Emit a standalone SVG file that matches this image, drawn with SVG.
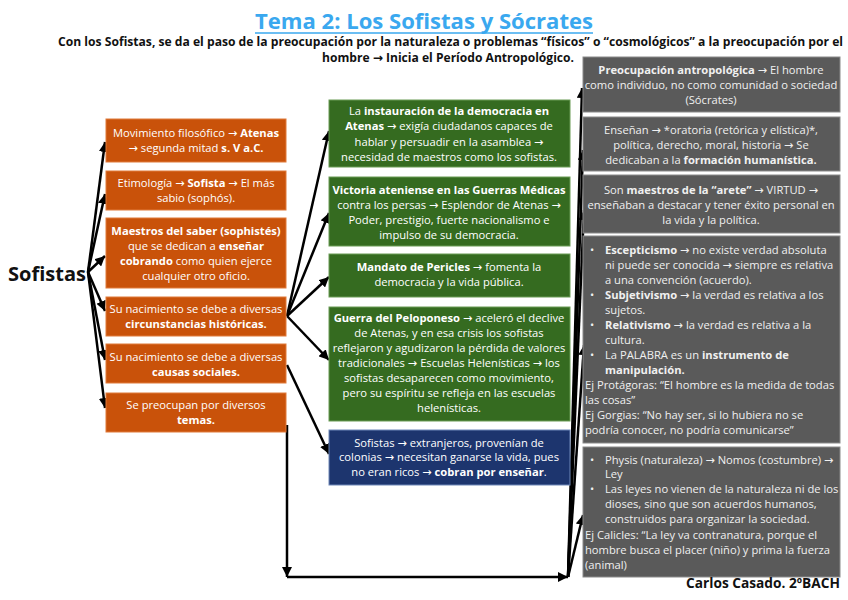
<svg xmlns="http://www.w3.org/2000/svg" width="848" height="600" viewBox="0 0 848 600">
<defs>
<marker id="ah" markerUnits="userSpaceOnUse" markerWidth="10" markerHeight="10" refX="10" refY="5" orient="auto" viewBox="0 0 10 10">
<path d="M0,0 L10,5 L0,10 z" fill="#000"/>
</marker>
<style>
.t{font-family:"Open Sans","DejaVu Sans",sans-serif;font-size:11.2px;fill:#fff;}
.c{text-anchor:middle;}
.b{font-weight:bold;}
.or{fill:#c9520a;stroke:#e07a3a;stroke-width:1;}
.gr{fill:#356b20;stroke:#6a9c55;stroke-width:1;}
.bl{fill:#1d356e;stroke:#6f88b8;stroke-width:1;}
.gy{fill:#5a5a5a;stroke:#8a8a8a;stroke-width:1;}
.gt{fill:#f0f0f0;}
.ln{stroke:#000;stroke-width:2.5;fill:none;marker-end:url(#ah);}
</style>
</defs>
<rect width="848" height="600" fill="#fff"/>

<g id="title">
<text x="424" y="29" text-anchor="middle" textLength="338" lengthAdjust="spacingAndGlyphs" font-family="'Open Sans','DejaVu Sans',sans-serif" font-size="22" font-weight="bold" fill="#3aa8ef">Tema 2: Los Sofistas y Sócrates</text>
<line x1="255" y1="33" x2="593" y2="33" stroke="#3aa8ef" stroke-width="1.5"/>
<text x="58" y="46" textLength="785" lengthAdjust="spacingAndGlyphs" font-family="'Open Sans','DejaVu Sans',sans-serif" font-size="12" font-weight="bold" fill="#111">Con los Sofistas, se da el paso de la preocupación por la naturaleza o problemas “físicos” o “cosmológicos” a la preocupación por el</text>
<text x="322" y="62" textLength="252" lengthAdjust="spacingAndGlyphs" font-family="'Open Sans','DejaVu Sans',sans-serif" font-size="12" font-weight="bold" fill="#111">hombre → Inicia el Período Antropológico.</text>
</g>

<g id="sofistas">
<text x="8" y="281" textLength="78" lengthAdjust="spacingAndGlyphs" font-family="'Open Sans','DejaVu Sans',sans-serif" font-size="19" font-weight="bold" fill="#111">Sofistas</text>
</g>

<g id="connectors">
<line class="ln" x1="88" y1="272" x2="105" y2="142"/>
<line class="ln" x1="88" y1="272" x2="105" y2="194"/>
<line class="ln" x1="88" y1="272" x2="105" y2="256"/>
<line class="ln" x1="88" y1="272" x2="105" y2="311"/>
<line class="ln" x1="88" y1="272" x2="105" y2="360"/>
<line class="ln" x1="88" y1="272" x2="105" y2="408"/>
<line class="ln" x1="287" y1="316" x2="329" y2="131"/>
<line class="ln" x1="287" y1="316" x2="329" y2="213"/>
<line class="ln" x1="287" y1="316" x2="329" y2="277"/>
<line class="ln" x1="287" y1="316" x2="329" y2="360"/>
<line class="ln" x1="287" y1="365" x2="329" y2="454"/>
<line class="ln" x1="287" y1="425" x2="287" y2="577"/>
<line class="ln" x1="287" y1="577" x2="568" y2="577"/>
<line class="ln" x1="568" y1="577" x2="582" y2="88"/>
<line class="ln" x1="568" y1="577" x2="583" y2="150"/>
<line class="ln" x1="568" y1="577" x2="584" y2="210"/>
<line class="ln" x1="568" y1="577" x2="584" y2="345"/>
<line class="ln" x1="568" y1="577" x2="583" y2="515"/>
</g>

<g id="o1"><rect class="or" x="106" y="119" width="180" height="43"/>
<text class="t c" x="196" y="137">Movimiento filosófico → <tspan class="b">Atenas</tspan></text>
<text class="t c" x="196" y="152">→ segunda mitad <tspan class="b">s. V a.C.</tspan></text></g>
<g id="o2"><rect class="or" x="106" y="171" width="180" height="39"/>
<text class="t c" x="196" y="187">Etimología → <tspan class="b">Sofista</tspan> → El más</text>
<text class="t c" x="196" y="202">sabio (sophós).</text></g>
<g id="o3"><rect class="or" x="106" y="218" width="180" height="70"/>
<text class="t c b" x="196" y="235">Maestros del saber (sophistés)</text>
<text class="t c" x="196" y="250">que se dedican a <tspan class="b">enseñar</tspan></text>
<text class="t c" x="196" y="265"><tspan class="b">cobrando</tspan> como quien ejerce</text>
<text class="t c" x="196" y="280">cualquier otro oficio.</text></g>
<g id="o4"><rect class="or" x="106" y="297" width="180" height="39"/>
<text class="t c" x="196" y="313">Su nacimiento se debe a diversas</text>
<text class="t c b" x="196" y="328">circunstancias históricas.</text></g>
<g id="o5"><rect class="or" x="106" y="344" width="180" height="39"/>
<text class="t c" x="196" y="361">Su nacimiento se debe a diversas</text>
<text class="t c b" x="196" y="376">causas sociales.</text></g>
<g id="o6"><rect class="or" x="106" y="393" width="180" height="39"/>
<text class="t c" x="196" y="409">Se preocupan por diversos</text>
<text class="t c b" x="196" y="424">temas.</text></g>

<g id="g1"><rect class="gr" x="329" y="100" width="241" height="67"/>
<text class="t c" x="449" y="115">La <tspan class="b">instauración de la democracia en</tspan></text>
<text class="t c" x="449" y="130"><tspan class="b">Atenas</tspan> → exigía ciudadanos capaces de</text>
<text class="t c" x="449" y="146">hablar y persuadir en la asamblea →</text>
<text class="t c" x="449" y="161">necesidad de maestros como los sofistas.</text></g>
<g id="g2"><rect class="gr" x="329" y="177" width="241" height="69"/>
<text class="t c b" x="449" y="194">Victoria ateniense en las Guerras Médicas</text>
<text class="t c" x="449" y="209">contra los persas → Esplendor de Atenas →</text>
<text class="t c" x="449" y="224">Poder, prestigio, fuerte nacionalismo e</text>
<text class="t c" x="449" y="239">impulso de su democracia.</text></g>
<g id="g3"><rect class="gr" x="329" y="254" width="241" height="43"/>
<text class="t c" x="449" y="271"><tspan class="b">Mandato de Pericles</tspan> → fomenta la</text>
<text class="t c" x="449" y="286">democracia y la vida pública.</text></g>
<g id="g4"><rect class="gr" x="329" y="307" width="241" height="114"/>
<text class="t c" x="449" y="322"><tspan class="b">Guerra del Peloponeso</tspan> → aceleró el declive</text>
<text class="t c" x="449" y="337">de Atenas, y en esa crisis los sofistas</text>
<text class="t c" x="449" y="352">reflejaron y agudizaron la pérdida de valores</text>
<text class="t c" x="449" y="367">tradicionales → Escuelas Helenísticas → los</text>
<text class="t c" x="449" y="382">sofistas desaparecen como movimiento,</text>
<text class="t c" x="449" y="397">pero su espíritu se refleja en las escuelas</text>
<text class="t c" x="449" y="412">helenísticas.</text></g>
<g id="b1"><rect class="bl" x="329" y="430" width="241" height="55"/>
<text class="t c" x="449" y="447">Sofistas → extranjeros, provenían de</text>
<text class="t c" x="449" y="461">colonias → necesitan ganarse la vida, pues</text>
<text class="t c" x="449" y="476">no eran ricos → <tspan class="b">cobran por enseñar</tspan>.</text></g>

<g id="r1"><rect class="gy" x="583" y="57" width="257" height="55"/>
<text class="t c gt" x="711" y="74"><tspan class="b">Preocupación antropológica</tspan> → El hombre</text>
<text class="t c gt" x="711" y="89">como individuo, no como comunidad o sociedad</text>
<text class="t c gt" x="711" y="104">(Sócrates)</text></g>
<g id="r2"><rect class="gy" x="583" y="117" width="257" height="54"/>
<text class="t c gt" x="711" y="134">Enseñan → *oratoria (retórica y elística)*,</text>
<text class="t c gt" x="711" y="149">política, derecho, moral, historia → Se</text>
<text class="t c gt" x="711" y="164">dedicaban a la <tspan class="b">formación humanística.</tspan></text></g>
<g id="r3"><rect class="gy" x="583" y="175" width="257" height="58"/>
<text class="t c gt" x="711" y="194">Son <tspan class="b">maestros de la “arete”</tspan> → VIRTUD →</text>
<text class="t c gt" x="711" y="209">enseñaban a destacar y tener éxito personal en</text>
<text class="t c gt" x="711" y="224">la vida y la política.</text></g>
<g id="r4"><rect class="gy" x="583" y="236" width="257" height="207"/>
<text class="t gt" x="590" y="254">•</text><text class="t gt" x="605" y="254"><tspan class="b">Escepticismo</tspan> → no existe verdad absoluta</text>
<text class="t gt" x="605" y="269">ni puede ser conocida → siempre es relativa</text>
<text class="t gt" x="605" y="284">a una convención (acuerdo).</text>
<text class="t gt" x="590" y="299">•</text><text class="t gt" x="605" y="299"><tspan class="b">Subjetivismo</tspan> → la verdad es relativa a los</text>
<text class="t gt" x="605" y="314">sujetos.</text>
<text class="t gt" x="590" y="329">•</text><text class="t gt" x="605" y="329"><tspan class="b">Relativismo</tspan> → la verdad es relativa a la</text>
<text class="t gt" x="605" y="344">cultura.</text>
<text class="t gt" x="590" y="359">•</text><text class="t gt" x="605" y="359">La PALABRA es un <tspan class="b">instrumento de</tspan></text>
<text class="t gt b" x="605" y="374">manipulación.</text>
<text class="t gt" x="585" y="389">Ej Protágoras: “El hombre es la medida de todas</text>
<text class="t gt" x="585" y="404">las cosas”</text>
<text class="t gt" x="585" y="419">Ej Gorgias: “No hay ser, si lo hubiera no se</text>
<text class="t gt" x="585" y="434">podría conocer, no podría comunicarse”</text></g>
<g id="r5"><rect class="gy" x="583" y="447" width="257" height="130"/>
<text class="t gt" x="590" y="464">•</text><text class="t gt" x="605" y="464">Physis (naturaleza) → Nomos (costumbre) →</text>
<text class="t gt" x="605" y="478">Ley</text>
<text class="t gt" x="590" y="493">•</text><text class="t gt" x="605" y="493">Las leyes no vienen de la naturaleza ni de los</text>
<text class="t gt" x="605" y="508">dioses, sino que son acuerdos humanos,</text>
<text class="t gt" x="605" y="523">construidos para organizar la sociedad.</text>
<text class="t gt" x="585" y="539">Ej Calicles: “La ley va contranatura, porque el</text>
<text class="t gt" x="585" y="554">hombre busca el placer (niño) y prima la fuerza</text>
<text class="t gt" x="585" y="569">(animal)</text></g>

<g id="author">
<text x="840" y="588" text-anchor="end" textLength="154" lengthAdjust="spacingAndGlyphs" font-family="'Open Sans','DejaVu Sans',sans-serif" font-size="13.5" font-weight="bold" fill="#111">Carlos Casado. 2ºBACH</text>
</g>
</svg>
